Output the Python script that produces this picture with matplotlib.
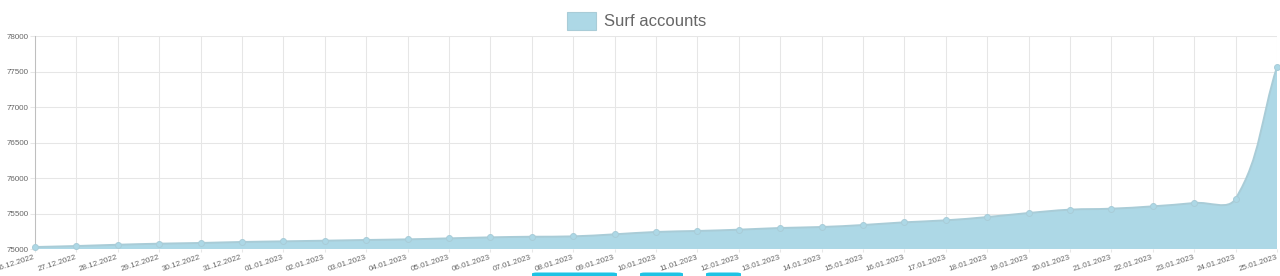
import numpy as np
import matplotlib.pyplot as plt
from matplotlib.path import Path
from matplotlib.patches import PathPatch, Rectangle, FancyBboxPatch

plt.rcParams['font.family'] = ['Liberation Sans', 'DejaVu Sans']

# ================= DATA =================
dates = ['26.12.2022', '27.12.2022', '28.12.2022', '29.12.2022', '30.12.2022',
         '31.12.2022', '01.01.2023', '02.01.2023', '03.01.2023', '04.01.2023',
         '05.01.2023', '06.01.2023', '07.01.2023', '08.01.2023', '09.01.2023',
         '10.01.2023', '11.01.2023', '12.01.2023', '13.01.2023', '14.01.2023',
         '15.01.2023', '16.01.2023', '17.01.2023', '18.01.2023', '19.01.2023',
         '20.01.2023', '21.01.2023', '22.01.2023', '23.01.2023', '24.01.2023',
         '25.01.2023']
accounts = [75028, 75042, 75060, 75075, 75085, 75099, 75108, 75117, 75127,
            75136, 75150, 75164, 75173, 75178, 75207, 75240, 75254, 75272,
            75296, 75310, 75338, 75376, 75404, 75450, 75507, 75554, 75568,
            75601, 75648, 75709, 77565]
y_ticks = [75000, 75500, 76000, 76500, 77000, 77500, 78000]

FILL = '#add8e6'
EDGE = '#a9ccd7'
GRID = '#e6e6e6'
TXT = '#666666'

# ================= FIGURE =================
fig = plt.figure(figsize=(12.8, 2.76), dpi=100)
ax = fig.add_axes([35 / 1280, 27 / 276, 1242 / 1280, 213 / 276])

n = len(dates)
x = np.arange(n)
y = np.array(accounts, dtype=float)
ax.set_xlim(0, n - 1)
ax.set_ylim(75000, 78000)

# Chart.js style bezier (tension 0.4), computed in pixel space
sx = 1242 / (n - 1)
sy = 213 / 3000
px, py = x * sx, y * sy
t = 0.4
verts = [(x[0], y[0])]
codes = [Path.MOVETO]
ctrl_next = []
ctrl_prev = []
for i in range(n):
    pi = max(i - 1, 0)
    ni = min(i + 1, n - 1)
    d01 = np.hypot(px[i] - px[pi], py[i] - py[pi])
    d12 = np.hypot(px[ni] - px[i], py[ni] - py[i])
    s01 = d01 / (d01 + d12) if d01 + d12 else 0
    s12 = d12 / (d01 + d12) if d01 + d12 else 0
    fa, fb = t * s01, t * s12
    dx, dy = px[ni] - px[pi], py[ni] - py[pi]
    ctrl_prev.append(((px[i] - fa * dx) / sx, (py[i] - fa * dy) / sy))
    ctrl_next.append(((px[i] + fb * dx) / sx, (py[i] + fb * dy) / sy))
for i in range(1, n):
    verts += [ctrl_next[i - 1], ctrl_prev[i], (x[i], y[i])]
    codes += [Path.CURVE4] * 3

line_path = Path(verts, codes)
fill_path = Path(verts + [(x[-1], 75000), (x[0], 75000), (x[0], y[0])],
                 codes + [Path.LINETO, Path.LINETO, Path.CLOSEPOLY])

ax.add_patch(PathPatch(fill_path, facecolor=FILL, edgecolor='none', zorder=2))
ax.add_patch(PathPatch(line_path, facecolor='none', edgecolor=EDGE,
                       lw=1.4, zorder=3))
ax.plot(x, y, 'o', ms=4.3, mfc=FILL, mec=EDGE, mew=0.7, zorder=4,
        clip_on=False)

# ================= AXES STYLE =================
ax.set_yticks(y_ticks)
ax.set_yticklabels([str(v) for v in y_ticks])
ax.set_xticks(x)
ax.set_xticklabels(dates, rotation=18, ha='right', va='center',
                   rotation_mode='anchor')
ax.grid(True, color=GRID, lw=0.75, zorder=0)
ax.set_axisbelow(True)
for s in ['top', 'right', 'bottom']:
    ax.spines[s].set_visible(False)
ax.spines['left'].set_color('#bfbfbf')
ax.spines['left'].set_linewidth(0.75)
ax.tick_params(axis='y', length=3.6, width=0.75, color=GRID,
               pad=1, labelsize=5.8, labelcolor=TXT)
ax.tick_params(axis='x', length=2.5, width=0.75, color=GRID,
               pad=3.5, labelsize=5.8, labelcolor=TXT)

# ================= LEGEND =================
fig.patches.append(Rectangle((567 / 1280, (276 - 30) / 276), 29 / 1280,
                             18 / 276, transform=fig.transFigure,
                             facecolor=FILL, edgecolor=EDGE, lw=0.8))
fig.text(604 / 1280, (276 - 21) / 276, 'Surf accounts', fontsize=12,
         color=TXT, va='center', ha='left')

# partial buttons at the bottom edge
for x0, w in [(532, 85), (640, 43), (706, 35)]:
    fig.patches.append(FancyBboxPatch((x0 / 1280, -10 / 276), w / 1280,
                                      13.5 / 276, transform=fig.transFigure,
                                      boxstyle='round,pad=0,rounding_size=0.004',
                                      facecolor='#1fc3e4', edgecolor='none'))

plt.savefig('out.png', dpi=100)
